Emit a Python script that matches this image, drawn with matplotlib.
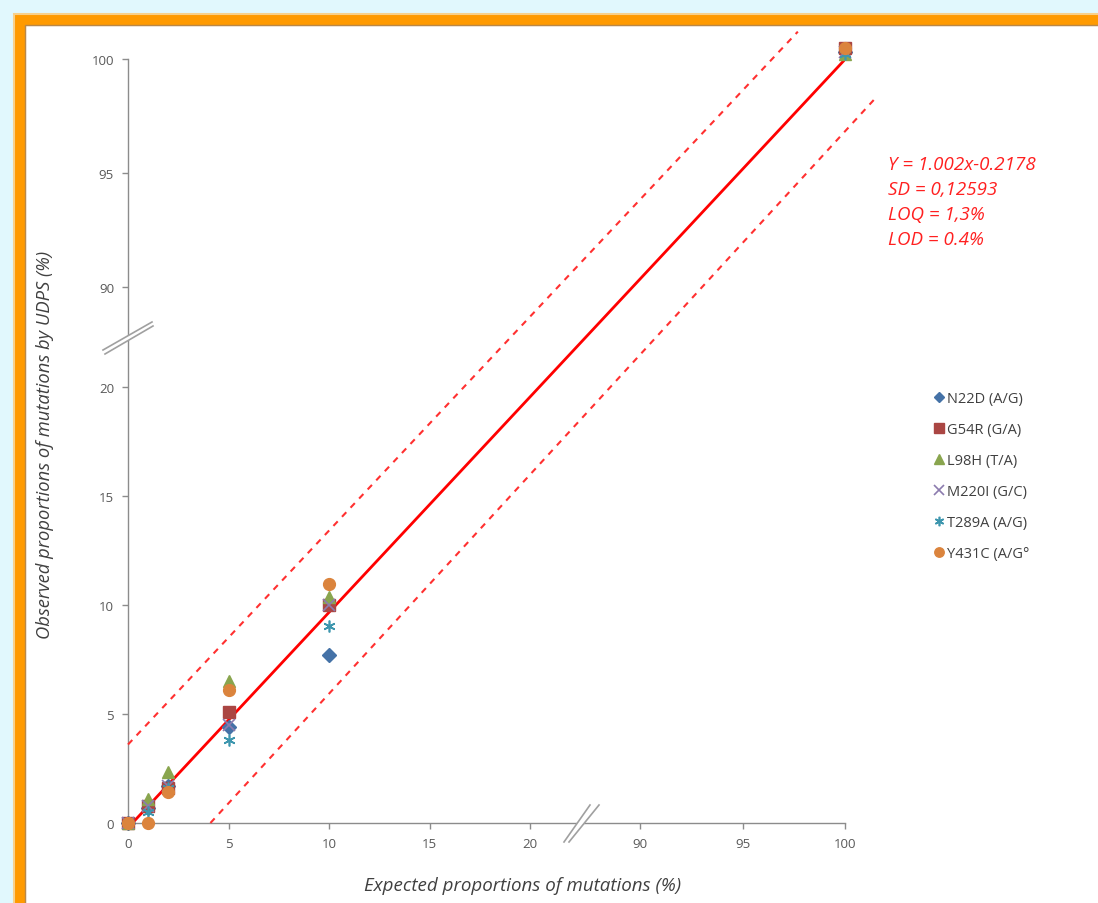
import numpy as np
import matplotlib
matplotlib.use("Agg")
import matplotlib.pyplot as plt
from matplotlib.patches import Rectangle, Polygon
from matplotlib.lines import Line2D

plt.rcParams['font.family'] = ['Open Sans', 'DejaVu Sans']

# expected proportions (%) and observed proportions (%) for each mutation
expected = [0, 1, 2, 5, 10, 100]
n22d = [0, 0.7, 1.7, 4.4, 7.7, 100.3]
g54r = [0, 0.8, 1.6, 5.1, 10.0, 100.5]
l98h = [0, 1.1, 2.35, 6.5, 10.35, 100.2]
m220i = [0, 0.8, 1.7, 4.5, 10.0, 100.3]
t289a = [0, 0.5, 1.6, 3.8, 9.05, 100.2]
y431c = [0, 0.0, 1.4, 6.1, 10.95, 100.5]

labels = ['N22D (A/G)', 'G54R (G/A)', 'L98H (T/A)', 'M220I (G/C)',
          'T289A (A/G)', 'Y431C (A/G°']
colors = ['#4572A7', '#AA4643', '#89A54E', '#8C7BAE', '#3D96AE', '#DB843D']
markers = ['D', 's', '^', 'x', (6, 2, 0), 'o']

# fit and +/- limit lines
slope, intercept = 1.002, -0.2178
fit_x = [0, 100]
upper_x = [0, 97.7]
upper_y = [3.6, 101.2]
lower_x = [4.1, 101.4]
lower_y = [0, 98.2]

ticks = [0, 5, 10, 15, 20, 90, 95, 100]
ann = ['Y = 1.002x-0.2178', 'SD = 0,12593', 'LOQ = 1,3%', 'LOD = 0.4%']


def broken(d, p):
    d = np.array(d, float)
    p = np.array(p, float)

    def conv(v, a, b):
        v = np.asarray(v, float)
        i = np.clip(np.searchsorted(a, v) - 1, 0, len(a) - 2)
        return b[i] + (v - a[i]) * (b[i + 1] - b[i]) / (a[i + 1] - a[i])
    return (lambda v: conv(v, d, p)), (lambda v: conv(v, p, d))


W, H = 1098, 904
fig = plt.figure(figsize=(W / 100, H / 100), dpi=100)
fig.patch.set_facecolor('#E1F8FD')
fig.add_artist(Rectangle((19.5 / W, -6 / H), 1.1, (883.5 + 6) / H, transform=fig.transFigure,
                         facecolor='white', edgecolor='#FF9A00', linewidth=8, zorder=-2))
fig.add_artist(Rectangle((14 / W, -6 / H), 1.1, (889 + 6) / H, transform=fig.transFigure,
                         facecolor='none', edgecolor='#F8D08A', linewidth=1.5, zorder=-1))
fig.add_artist(Rectangle((24.5 / W, -6 / H), 1.1, (878.5 + 6) / H, transform=fig.transFigure,
                         facecolor='none', edgecolor='#B8884A', linewidth=1, zorder=-1))

ax_w, ax_h = 717, 764
ax = fig.add_axes([128 / W, 80 / H, ax_w / W, ax_h / H])
ax.patch.set_alpha(0)
ax.set_xscale('function', functions=broken([0, 20, 90, 100], [0, 402, 512, 717]))
ax.set_yscale('function', functions=broken([0, 20, 90, 100], [0, 436, 536, 764]))
ax.set_xlim(0, 100)
ax.set_ylim(0, 100)

ax.plot(fit_x, [slope * v + intercept for v in fit_x], color='#FF0000', lw=2, zorder=3)
ax.plot(upper_x, upper_y, color='#FF3030', lw=1.5, ls=(0, (3, 3)), zorder=3, clip_on=False)
ax.plot(lower_x, lower_y, color='#FF3030', lw=1.5, ls=(0, (3, 3)), zorder=3, clip_on=False)

series = [n22d, g54r, l98h, m220i, t289a, y431c]
handles = []
for vals, lab, c, m in zip(series, labels, colors, markers):
    if m in ('x', (6, 2, 0)):
        h, = ax.plot(expected, vals, ls='none', marker=m, ms=8.5, mew=1.2, mec=c, color=c,
                     label=lab, zorder=4, clip_on=False)
    else:
        h, = ax.plot(expected, vals, ls='none', marker=m, ms=8.5 if m != 'D' else 7,
                     mfc=c, mec=c, label=lab, zorder=4, clip_on=False)
    handles.append(h)

for s in ['top', 'right']:
    ax.spines[s].set_visible(False)
for s in ['left', 'bottom']:
    ax.spines[s].set_color('#8C8C8C')
    ax.spines[s].set_linewidth(1)
ax.set_xticks(ticks)
ax.set_yticks(ticks)
ax.set_xticklabels([str(t) for t in ticks])
ax.set_yticklabels([str(t) for t in ticks])
ax.minorticks_off()
ax.tick_params(direction='out', length=4, width=1, color='#8C8C8C', labelcolor='#595959',
               labelsize=9.5, pad=6)

fig.text(523 / W, 1 - 886 / H, 'Expected proportions of mutations (%)', style='italic',
         fontsize=13.5, color='#404040', ha='center', va='center')
fig.text(45 / W, 1 - 445 / H, 'Observed proportions of mutations by UDPS (%)', style='italic',
         fontsize=13.2, color='#404040', ha='center', va='center', rotation=90)


# axis break marks, drawn in pixel offsets from the axes
def px(x, y):
    return (x - 128) / ax_w, (824 - y) / ax_h

for pts, lines in [
    ([(103, 351), (152, 323), (153, 327), (105, 355)],
     [[(103, 351), (152, 323)], [(105, 355), (153, 327)]]),
    ([(564, 843), (590, 806), (599, 806), (569, 843)],
     [[(564, 843), (590, 806)], [(569, 843), (599, 806)]]),
]:
    ax.add_patch(Polygon([px(*p) for p in pts], closed=True, transform=ax.transAxes,
                         facecolor='white', edgecolor='none', clip_on=False, zorder=5))
    for ln in lines:
        xs, ys = zip(*[px(*p) for p in ln])
        ax.add_line(Line2D(xs, ys, transform=ax.transAxes, color='#A0A0A0', lw=1.2,
                           clip_on=False, zorder=6))

for i, t in enumerate(ann):
    fig.text(888 / W, 1 - (165 + 25 * i) / H, t, color='#FF2020', style='italic',
             fontsize=13.5, va='center', ha='left')

leg = fig.legend(handles=handles, loc='upper left', bbox_to_anchor=(927 / W, 1 - 386 / H),
                 frameon=False, fontsize=10.5, labelspacing=1.1, handlelength=0.8,
                 handletextpad=0.15, borderaxespad=0, markerscale=0.8)
for t in leg.get_texts():
    t.set_color('#404040')

fig.savefig('out.png', dpi=100, facecolor=fig.get_facecolor())
